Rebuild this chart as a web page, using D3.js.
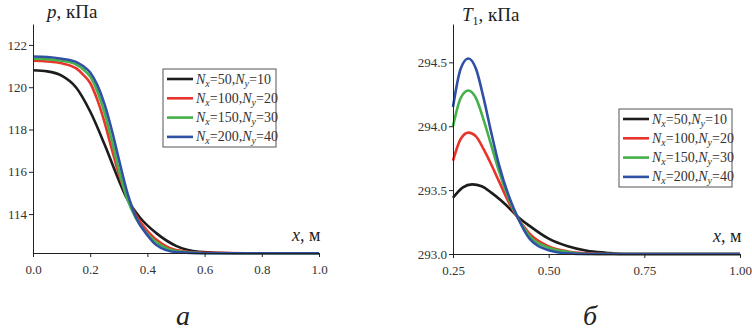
<!DOCTYPE html>
<html>
<head>
<meta charset="utf-8">
<script src="https://cdn.jsdelivr.net/npm/d3@7"></script>
<style>
  body { margin: 0; background: #fff; }
  svg { display: block; }
  .tick text { font-size: 13px; fill: #333; }
  .domain, .tick line { stroke: #222; }
</style>
</head>
<body>
<script>
var serifFont = "'Liberation Serif', 'Times New Roman'";

// legend labels (Nx, Ny) and line colours
var meshNx = [50, 100, 150, 200];
var meshNy = [10, 20, 30, 40];
var seriesColors = ["#1c1c1c", "#e8342a", "#46b04a", "#3050a4"];

// panel a: pressure p, kPa along x
var pX = [
  [0, 0.05, 0.1, 0.15, 0.2, 0.25, 0.3, 0.326, 0.373, 0.431, 0.5, 0.58, 0.7, 1.0],
  [0, 0.05, 0.1, 0.15, 0.175, 0.2, 0.225, 0.25, 0.275, 0.3, 0.33, 0.36, 0.4, 0.45, 0.5, 0.6, 0.75, 1.0],
  [0, 0.05, 0.1, 0.15, 0.175, 0.2, 0.225, 0.25, 0.275, 0.3, 0.33, 0.36, 0.4, 0.45, 0.5, 0.6, 0.75, 1.0],
  [0, 0.05, 0.1, 0.15, 0.175, 0.2, 0.225, 0.25, 0.275, 0.3, 0.33, 0.36, 0.4, 0.43, 0.5, 0.6, 0.75, 1.0]
];
var pVal = [
  [120.8, 120.75, 120.55, 120.0, 118.85, 117.3, 115.6, 114.8, 113.85, 113.1, 112.5, 112.22, 112.15, 112.15],
  [121.25, 121.22, 121.13, 120.9, 120.6, 120.2, 119.4, 118.35, 117.1, 115.9, 114.8, 113.95, 113.2, 112.6, 112.3, 112.17, 112.15, 112.15],
  [121.35, 121.33, 121.25, 121.08, 120.85, 120.5, 119.8, 118.8, 117.5, 116.1, 114.7, 113.8, 113.05, 112.5, 112.25, 112.15, 112.15, 112.15],
  [121.45, 121.43, 121.35, 121.2, 121.0, 120.7, 120.1, 119.2, 118.0, 116.6, 115.0, 113.85, 113.0, 112.55, 112.2, 112.15, 112.15, 112.15]
];

// panel b: T1 along x
var tX = [
  [0.25, 0.275, 0.3, 0.325, 0.35, 0.375, 0.4, 0.42, 0.45, 0.5, 0.55, 0.6, 0.65, 0.7, 1.0],
  [0.25, 0.27, 0.29, 0.31, 0.33, 0.35, 0.37, 0.4, 0.42, 0.45, 0.5, 0.55, 0.6, 0.65, 1.0],
  [0.25, 0.27, 0.29, 0.31, 0.33, 0.35, 0.37, 0.4, 0.42, 0.45, 0.5, 0.55, 0.6, 1.0],
  [0.25, 0.27, 0.29, 0.31, 0.33, 0.35, 0.37, 0.4, 0.42, 0.45, 0.5, 0.55, 0.6, 1.0]
];
var tVal = [
  [293.44, 293.52, 293.545, 293.53, 293.48, 293.42, 293.35, 293.29, 293.22, 293.12, 293.06, 293.025, 293.01, 293.0, 293.0],
  [293.73, 293.9, 293.95, 293.92, 293.82, 293.7, 293.57, 293.38, 293.28, 293.16, 293.06, 293.02, 293.005, 293.0, 293.0],
  [294.0, 294.22, 294.28, 294.22, 294.05, 293.85, 293.65, 293.4, 293.28, 293.14, 293.05, 293.015, 293.0, 293.0],
  [294.15, 294.45, 294.53, 294.45, 294.22, 293.95, 293.7, 293.42, 293.28, 293.12, 293.03, 293.005, 293.0, 293.0]
];

var pTicksX = [0, 0.2, 0.4, 0.6, 0.8, 1.0];
var pTicksY = [114, 116, 118, 120, 122];
var tTicksX = [0.25, 0.5, 0.75, 1.0];
var tTicksY = [293.0, 293.5, 294.0, 294.5];

var svg = d3.select("body").append("svg")
  .attr("width", 752)
  .attr("height", 332);

function drawPanel(opt) {
  var x = d3.scaleLinear().domain(opt.xDomain).range([opt.left, opt.right]);
  var y = d3.scaleLinear().domain(opt.yDomain).range([opt.bottom, opt.top]);

  var g = svg.append("g");

  var line = d3.line()
    .x(function(d){ return x(d[0]); })
    .y(function(d){ return y(d[1]); })
    .curve(d3.curveMonotoneX);

  for (var i = 0; i < opt.xs.length; i++) {
    var pts = opt.xs[i].map(function(v, j){ return [v, opt.ys[i][j]]; });
    g.append("path")
      .datum(pts)
      .attr("fill", "none")
      .attr("stroke", seriesColors[i])
      .attr("stroke-width", 2.6)
      .attr("d", line);
  }

  g.append("g")
    .attr("transform", "translate(0," + opt.bottom + ")")
    .call(d3.axisBottom(x).tickValues(opt.ticksX).tickFormat(d3.format(opt.fmtX)).tickSize(4).tickSizeOuter(4))
    .call(function(a){
      a.attr("font-family", null).attr("font-size", null);
      a.selectAll(".tick text").attr("dy", "1.05em").style("font-family", serifFont);
    });

  g.append("g")
    .attr("transform", "translate(" + opt.left + ",0)")
    .call(d3.axisLeft(y).tickValues(opt.ticksY).tickFormat(d3.format(opt.fmtY)).tickSize(4).tickSizeOuter(0))
    .call(function(a){
      a.attr("font-family", null).attr("font-size", null);
      a.selectAll(".tick text").attr("x", -6).style("font-family", serifFont);
    });

  return { x: x, y: y, g: g };
}

function drawLegend(lx, ly) {
  var box = svg.append("g").attr("transform", "translate(" + lx + "," + ly + ")");
  box.append("rect")
    .attr("x", 0).attr("y", 0)
    .attr("width", 113).attr("height", 78)
    .attr("fill", "#fff")
    .attr("stroke", "#555")
    .attr("stroke-width", 1);
  meshNx.forEach(function(n, i) {
    var yy = 10 + i * 19.3;
    box.append("line")
      .attr("x1", 4).attr("x2", 30)
      .attr("y1", yy).attr("y2", yy)
      .attr("stroke", seriesColors[i])
      .attr("stroke-width", 2.6);
    var t = box.append("text")
      .attr("x", 33).attr("y", yy + 4.5)
      .style("font-family", serifFont)
      .attr("font-size", 14)
      .attr("fill", "#333");
    t.append("tspan").attr("font-style", "italic").text("N");
    t.append("tspan").attr("font-style", "italic").attr("font-size", 10).attr("dy", 3).text("x");
    t.append("tspan").attr("dy", -3).text("=" + n + ",");
    t.append("tspan").attr("font-style", "italic").text("N");
    t.append("tspan").attr("font-style", "italic").attr("font-size", 10).attr("dy", 3).text("y");
    t.append("tspan").attr("dy", -3).text("=" + meshNy[i]);
  });
}

function label(x, y, size) {
  return svg.append("text").attr("x", x).attr("y", y)
    .style("font-family", serifFont)
    .attr("font-size", size).attr("fill", "#222");
}

// panel a
drawPanel({
  xs: pX, ys: pVal,
  xDomain: [0, 1], yDomain: [112.16, 122.99],
  left: 33, right: 319, top: 24, bottom: 253,
  ticksX: pTicksX, ticksY: pTicksY, fmtX: ".1f", fmtY: "d"
});
drawLegend(163, 69);

label(47, 18, 19).call(function(t){
  t.append("tspan").attr("font-style", "italic").text("p");
  t.append("tspan").text(", кПа");
});
label(292, 241, 18).call(function(t){
  t.append("tspan").attr("font-style", "italic").text("x");
  t.append("tspan").text(", м");
});
label(183, 325, 28).attr("font-style", "italic").attr("text-anchor", "middle").text("а");

// panel b
drawPanel({
  xs: tX, ys: tVal,
  xDomain: [0.25, 1], yDomain: [293, 294.8],
  left: 453, right: 740, top: 24, bottom: 254,
  ticksX: tTicksX, ticksY: tTicksY, fmtX: ".2f", fmtY: ".1f"
});
drawLegend(619, 109);

label(462, 21, 19).call(function(t){
  t.append("tspan").attr("font-style", "italic").text("T");
  t.append("tspan").attr("font-size", 12).attr("dy", 4).text("1");
  t.append("tspan").attr("dy", -4).text(", кПа");
});
label(713, 242, 18).call(function(t){
  t.append("tspan").attr("font-style", "italic").text("x");
  t.append("tspan").text(", м");
});
label(590, 325, 28).attr("font-style", "italic").attr("text-anchor", "middle").text("б");
</script>
</body>
</html>
